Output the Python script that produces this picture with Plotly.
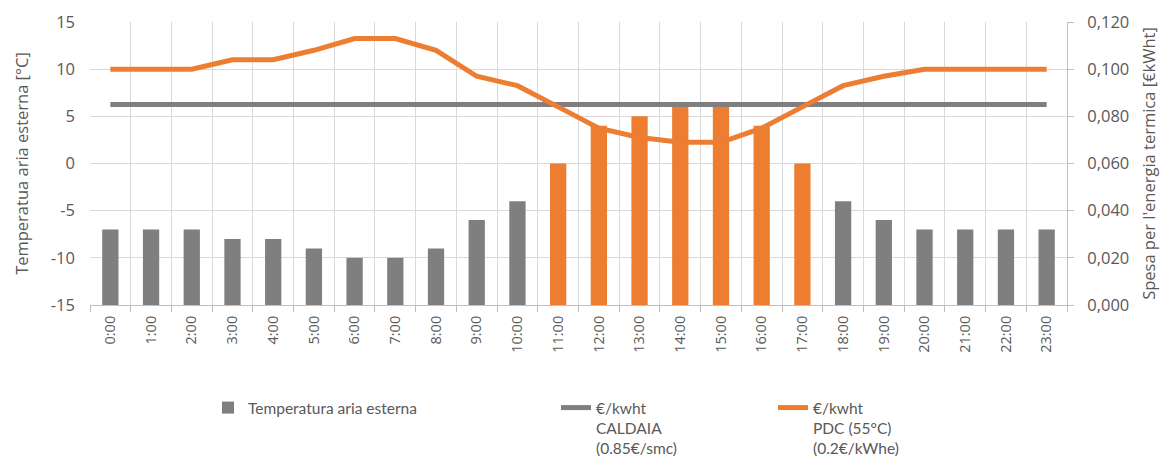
import plotly.graph_objects as go

# Hourly data
hours = ["0:00", "1:00", "2:00", "3:00", "4:00", "5:00", "6:00", "7:00", "8:00", "9:00",
         "10:00", "11:00", "12:00", "13:00", "14:00", "15:00", "16:00", "17:00", "18:00",
         "19:00", "20:00", "21:00", "22:00", "23:00"]
temp_ext = [-7, -7, -7, -8, -8, -9, -10, -10, -9, -6, -4, 0, 4, 5, 6, 6, 4, 0, -4, -6, -7, -7, -7, -7]
cost_caldaia = [0.085] * 24
cost_pdc = [0.100, 0.100, 0.100, 0.104, 0.104, 0.108, 0.113, 0.113, 0.108, 0.097, 0.093, 0.084,
            0.075, 0.071, 0.069, 0.069, 0.075, 0.084, 0.093, 0.097, 0.100, 0.100, 0.100, 0.100]

# Axis tick labels
temp_ticks = [-15, -10, -5, 0, 5, 10, 15]
cost_ticks = [0.0, 0.02, 0.04, 0.06, 0.08, 0.10, 0.12]

GRAY = "#7f7f7f"
ORANGE = "#ed7d31"
TXT = "#595959"
GRID = "#d9d9d9"
T_MIN = temp_ticks[0]

x_idx = list(range(len(hours)))
# hours where the heat pump is cheaper than the boiler are highlighted
bar_colors = [ORANGE if p < c else GRAY for p, c in zip(cost_pdc, cost_caldaia)]

fig = go.Figure()
# bars rise from the bottom of the temperature axis
fig.add_trace(go.Bar(
    x=x_idx, y=[t - T_MIN for t in temp_ext], base=T_MIN, width=0.4,
    marker=dict(color=bar_colors, line=dict(width=0)),
    name="Temperatura aria esterna", legend="legend", showlegend=True,
))
fig.add_trace(go.Scatter(
    x=x_idx, y=cost_caldaia, yaxis="y2", mode="lines",
    line=dict(color=GRAY, width=5),
    name="€/kwht<br>CALDAIA<br>(0.85€/smc)", legend="legend2", showlegend=True,
))
fig.add_trace(go.Scatter(
    x=x_idx, y=cost_pdc, yaxis="y2", mode="lines",
    line=dict(color=ORANGE, width=5),
    name="€/kwht<br>PDC (55°C)<br>(0.2€/kWhe)", legend="legend3", showlegend=True,
))

W, H = 1167, 468
L, R, T, B = 90, 100, 22, 163
pw = W - L - R
ph = H - T - B


def px_x(p):
    return (p - L) / pw


def px_y(p):
    return (H - B - p) / ph


legend_font = dict(family="Lato, Open Sans, sans-serif", size=15.5, color=TXT)
legend_common = dict(orientation="v", xanchor="left", yanchor="top", valign="top",
                     bgcolor="rgba(0,0,0,0)", font=legend_font, itemwidth=30)

fig.update_layout(
    width=W, height=H,
    margin=dict(l=L, r=R, t=T, b=B, autoexpand=False),
    paper_bgcolor="white", plot_bgcolor="white",
    separators=",.",
    showlegend=True,
    font=dict(family="Open Sans, sans-serif", size=15, color=TXT),
    xaxis=dict(
        range=[-0.5, 23.5], tickmode="array", tickvals=x_idx, ticktext=hours,
        tickangle=-90, ticks="", showgrid=False, zeroline=False, automargin=False,
        showline=True, linecolor="#bfbfbf", linewidth=1,
        tickfont=dict(size=14.5, color=TXT), ticklabelstandoff=4,
        minor=dict(tickmode="linear", tick0=-0.5, dtick=1, showgrid=True,
                   gridcolor=GRID, gridwidth=1, ticks="outside", ticklen=6,
                   tickcolor="#bfbfbf"),
    ),
    yaxis=dict(
        range=[-15, 15], tickmode="array", tickvals=temp_ticks,
        ticktext=[str(v) for v in temp_ticks], automargin=False,
        showgrid=True, gridcolor=GRID, gridwidth=1, zeroline=False,
        showline=False, ticks="", ticklabelstandoff=14,
        tickfont=dict(size=16.5, color=TXT),
        title=dict(text="Temperatua aria esterna [°C]", standoff=18,
                   font=dict(size=16.5, color=TXT)),
    ),
    yaxis2=dict(
        range=[0, 0.12], overlaying="y", side="right", tickmode="array",
        tickvals=cost_ticks, tickformat=".3f", automargin=False,
        showgrid=False, zeroline=False, showline=True, linecolor="#bfbfbf",
        ticks="outside", ticklen=6, tickcolor="#bfbfbf", ticklabelstandoff=10,
        tickfont=dict(size=16.5, color=TXT),
        title=dict(text="Spesa per l'energia termica [€kWht]", standoff=15,
                   font=dict(size=16.5, color=TXT)),
    ),
    legend=dict(x=px_x(208), y=px_y(391), **legend_common),
    legend2=dict(x=px_x(556), y=px_y(391), **legend_common),
    legend3=dict(x=px_x(773), y=px_y(391), **legend_common),
)

fig.write_html("out.html")
